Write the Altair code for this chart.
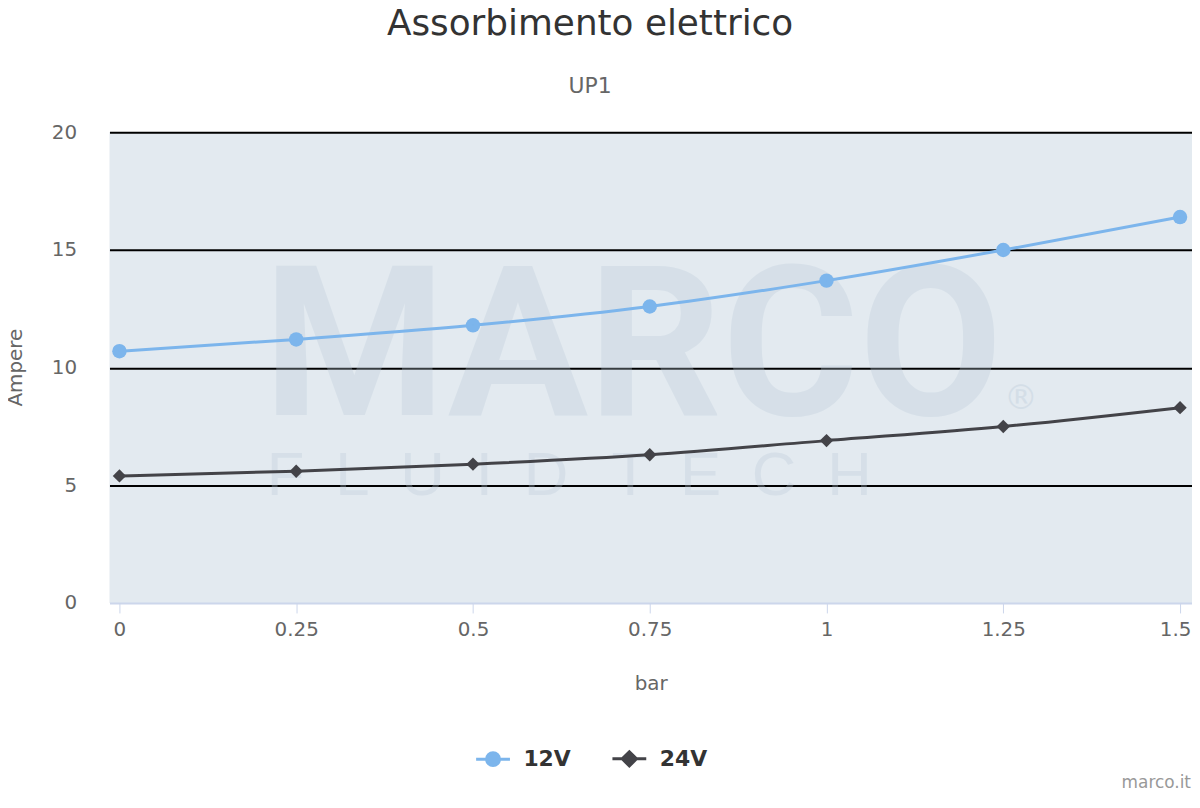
import altair as alt
import pandas as pd

# ---- data ----
pressure = [0, 0.25, 0.5, 0.75, 1, 1.25, 1.5]
amp_12v = [10.7, 11.2, 11.8, 12.6, 13.7, 15.0, 16.4]
amp_24v = [5.4, 5.6, 5.9, 6.3, 6.9, 7.5, 8.3]
series_names = ["12V", "24V"]
series_colors = ["#7cb5ec", "#434348"]
y_ticks = [0, 5, 10, 15, 20]
title_text = ["Assorbimento elettrico"]
subtitle_text = ["UP1"]
credit_text = ["marco.it"]
watermark_big = ["MARCO"]
watermark_small = ["F\u2002L\u2002U\u2002I\u2002D\u2002\u2009T\u2002E\u2002C\u2002H"]
watermark_reg = ["®"]

FONT = "DejaVu Sans"

df = pd.DataFrame({
    "bar": pressure + pressure,
    "ampere": amp_12v + amp_24v,
    "serie": [series_names[0]] * len(pressure) + [series_names[1]] * len(pressure),
})

x_scale = alt.Scale(domain=[-0.01407, 1.5169], nice=False, zero=False)
y_scale = alt.Scale(domain=[0, 20], nice=False)

x_axis = alt.Axis(
    values=pressure, grid=False, domain=False, ticks=True,
    tickColor="#ccd6eb", tickSize=10, tickWidth=1,
    labelFontSize=20, labelColor="#666666", labelFont=FONT, labelPadding=7,
    labelFlush=False, labelExpr="datum.value + ''",
    labelOffset={"condition": {"test": "datum.value === 1.5", "value": -5}, "value": 0},
    title="bar", titleFontSize=20, titleFont=FONT, titleFontWeight="normal",
    titleColor="#666666", titleY=81, titleBaseline="middle",
)
y_axis = alt.Axis(
    values=y_ticks, grid=True,
    gridColor={"condition": {"test": "datum.value === 0", "value": "#ccd6eb"}, "value": "#000000"},
    gridWidth=2, domain=False, ticks=False, tickSize=0,
    labelFontSize=20, labelColor="#666666", labelFont=FONT, labelPadding=33,
    title="Ampere", titleFontSize=20, titleFont=FONT, titleFontWeight="normal",
    titleColor="#666666", titleX=-84, titleY=236, titleAngle=270,
    titleAlign="center", titleBaseline="bottom",
)

base = alt.Chart(df).encode(
    x=alt.X("bar:Q", scale=x_scale, axis=x_axis),
    y=alt.Y("ampere:Q", scale=y_scale, axis=y_axis),
)

color_scale = alt.Scale(domain=series_names, range=series_colors)

# legend symbols: a short line with a (nearly solid) marker in its middle
circ_path = ("M-1,0H1"
             "M-0.38,0A0.38,0.38 0 1,0 0.38,0A0.38,0.38 0 1,0 -0.38,0Z"
             "M-0.22,0A0.22,0.22 0 1,0 0.22,0A0.22,0.22 0 1,0 -0.22,0Z"
             "M-0.07,0A0.07,0.07 0 1,0 0.07,0A0.07,0.07 0 1,0 -0.07,0Z")
diam_path = ("M-1,0H1"
             "M0,-0.42L0.42,0L0,0.42L-0.42,0Z"
             "M0,-0.26L0.26,0L0,0.26L-0.26,0Z"
             "M0,-0.1L0.1,0L0,0.1L-0.1,0Z")

legend_def = alt.Legend(
    title=None, orient="none", legendX=367, legendY=611, direction="horizontal",
    symbolSize=1156, symbolStrokeWidth=3,
    labelFontSize=22, labelFontWeight="bold", labelColor="#333333", labelFont=FONT,
    labelOffset=12, columnPadding=35,
)

lines = base.mark_line(strokeWidth=3, interpolate="monotone").encode(
    color=alt.Color("serie:N", scale=color_scale, legend=legend_def)
)

pts12 = base.transform_filter(f"datum.serie === '{series_names[0]}'").mark_point(
    shape="circle", filled=True, size=210, opacity=1
).encode(color=alt.Color("serie:N", scale=color_scale, legend=None))
pts24 = base.transform_filter(f"datum.serie === '{series_names[1]}'").mark_point(
    shape="diamond", filled=True, size=180, opacity=1
).encode(color=alt.Color("serie:N", scale=color_scale, legend=None))

# tiny layer that carries the legend symbol shapes
legend_carrier = base.mark_point(filled=False, size=1, strokeWidth=0.5).encode(
    color=alt.Color("serie:N", scale=color_scale, legend=None),
    shape=alt.Shape("serie:N", scale=alt.Scale(domain=series_names, range=[circ_path, diam_path]),
                    legend=None),
)

wm_color = "#b9c9d8"
wm1 = alt.Chart(pd.DataFrame({"t": watermark_big})).mark_text(
    font="Roboto", fontWeight="bold", fontSize=210, color=wm_color,
    opacity=0.3, align="center", baseline="alphabetic"
).encode(text="t:N", x=alt.value(526), y=alt.value(284))
wm2 = alt.Chart(pd.DataFrame({"t": watermark_small})).mark_text(
    font="Liberation Sans", fontSize=62, color=wm_color,
    opacity=0.3, align="left", baseline="alphabetic"
).encode(text="t:N", x=alt.value(158), y=alt.value(364))
wm3 = alt.Chart(pd.DataFrame({"t": watermark_reg})).mark_text(
    font=FONT, fontSize=34, color=wm_color,
    opacity=0.35, align="center", baseline="middle"
).encode(text="t:N", x=alt.value(916), y=alt.value(268))

title = alt.Chart(pd.DataFrame({"t": title_text})).mark_text(
    font=FONT, fontSize=36, color="#333333", align="center", baseline="alphabetic"
).encode(text="t:N", x=alt.value(483), y=alt.value(-98))
subtitle = alt.Chart(pd.DataFrame({"t": subtitle_text})).mark_text(
    font=FONT, fontSize=22, color="#666666", align="center", baseline="alphabetic"
).encode(text="t:N", x=alt.value(483), y=alt.value(-40))
credit = alt.Chart(pd.DataFrame({"t": credit_text})).mark_text(
    font=FONT, fontSize=17, color="#999999", align="right", baseline="alphabetic"
).encode(text="t:N", x=alt.value(1087), y=alt.value(659))

chart = alt.layer(
    wm1, wm2, wm3, lines, pts12, pts24, legend_carrier, title, subtitle, credit
).properties(
    width=1088, height=473, autosize="none",
    padding={"left": 102, "top": 123, "right": 0, "bottom": 190},
    background="#ffffff",
).configure_view(fill="#e3eaf0", stroke=None)

chart.save("out.html", embed_options={"renderer": "svg", "actions": False})
